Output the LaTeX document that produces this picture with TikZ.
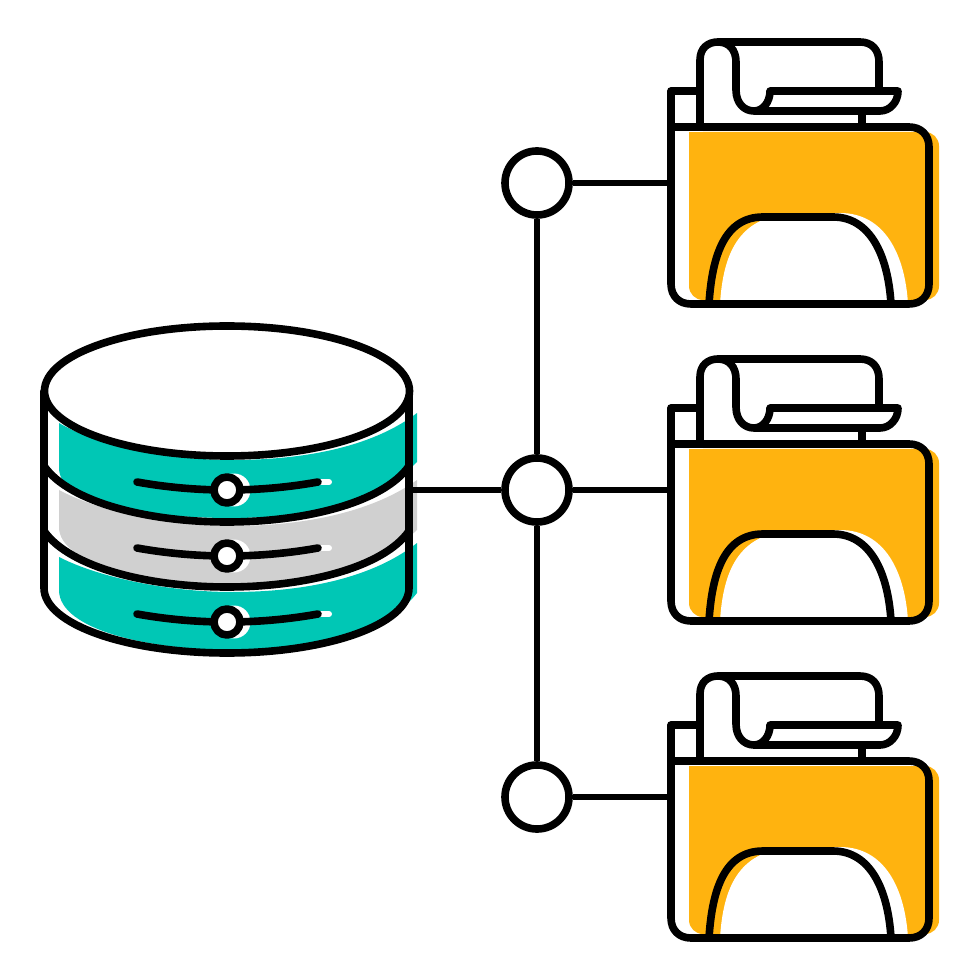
\documentclass[tikz,border=0pt]{standalone}
\definecolor{teal1}{HTML}{00C7B5}
\definecolor{gray1}{HTML}{D0D0D0}
\definecolor{amber}{HTML}{FFB30F}
\tikzset{
  ink/.style={draw=black,line width=0.076cm,line join=round,line cap=round},
  thinink/.style={draw=black,line width=0.066cm},
  hub/.style={circle,draw=black,fill=white,line width=0.076cm,minimum size=0.64cm,inner sep=0pt},
}
\begin{document}
\begin{tikzpicture}[x=0.01cm,y=-0.01cm]
\useasboundingbox (0,0) rectangle (980,980);
% database fills
\fill[teal1] (59,423) .. controls (100,447) and (170,460) .. (232,460) .. controls (310,460) and (375,445) .. (417,413) -- (417,462) .. controls (375,505) and (300,518) .. (232,518) .. controls (150,518) and (59,505) .. (59,468) -- cycle;
\fill[gray1] (59,490) .. controls (100,512) and (170,526) .. (232,526) .. controls (310,526) and (375,510) .. (417,480) -- (417,530) .. controls (375,570) and (300,584) .. (232,584) .. controls (150,584) and (59,565) .. (59,527) -- cycle;
\fill[teal1] (59,557) .. controls (100,578) and (170,592) .. (232,592) .. controls (310,592) and (375,576) .. (417,543) -- (417,593) .. controls (385,635) and (300,650) .. (232,650) .. controls (150,650) and (59,630) .. (59,590) -- cycle;
% connectors
\coordinate (folderA) at (671,183);
\coordinate (folderB) at (671,490);
\coordinate (folderC) at (671,797);
\coordinate (dbport) at (409,490);
\node[hub] (hubA) at (537,183) {};
\node[hub] (hubB) at (537,490) {};
\node[hub] (hubC) at (537,797) {};
\draw[thinink] (hubA) -- (folderA);
\draw[thinink] (hubB) -- (folderB);
\draw[thinink] (hubC) -- (folderC);
\draw[thinink] (hubA) -- (hubB);
\draw[thinink] (hubB) -- (hubC);
\draw[thinink] (dbport) -- (hubB);
% database outline
\draw[ink] (44,391) -- (44,588) .. controls (44,624) and (126,653) .. (227,653) .. controls (328,653) and (409,624) .. (409,588) -- (409,391);
\draw[ink] (44,466) .. controls (70,503) and (150,522) .. (227,522) .. controls (304,522) and (383,503) .. (409,466);
\draw[ink] (44,531) .. controls (70,568) and (150,587) .. (227,587) .. controls (304,587) and (383,568) .. (409,531);
\draw[ink,fill=white] (227,391) ellipse[x radius=182.5,y radius=65];
% slots
\foreach \sy in {490,556,622}{
  \begin{scope}[yshift=\sy*-0.01cm]
    \fill[white] (234,0) circle[radius=16.5];
    \draw[white,line width=0.06cm,line cap=round] (320,-8) -- (329,-8);
    \draw[ink] (137,-8) .. controls (165,-3) and (195,0) .. (227,0) .. controls (260,0) and (290,-3) .. (318,-8);
    \draw[ink,fill=white] (227,0) circle[radius=13];
  \end{scope}
}
% folders
\foreach \dy in {0,317,634}{
  \begin{scope}[yshift=\dy*-0.01cm]
    \fill[amber,rounded corners=0.14cm] (689,132) rectangle (939,300);
    \fill[amber] (689,132) rectangle (720,200);
    \fill[white] (720,304) .. controls (723,255) and (738,217) .. (790,214) -- (840,213) .. controls (885,213) and (905,255) .. (908,304) -- cycle;
    % back tab
    \draw[ink] (700,127) -- (700,91) -- (671,91) -- (671,127);
    % paper
    \draw[ink] (700,91) -- (700,60) .. controls (700,48) and (708,42) .. (718,42) -- (860,42) .. controls (872,42) and (879,50) .. (879,62) -- (879,91);
    \draw[ink] (718,42) .. controls (729,42) and (736,50) .. (736,62) -- (736,90) .. controls (736,103) and (744,111) .. (754,111) -- (880,111) .. controls (890,111) and (898,102) .. (898,91) -- (770,91) .. controls (770,102) and (763,111) .. (754,111);
    \draw[ink] (862,111) -- (862,127);
    % folder body: left top corner square, others rounded
    \draw[ink] (671,127) -- (909,127) .. controls (921,127) and (929,135) .. (929,147) -- (929,284) .. controls (929,296) and (921,304) .. (909,304) -- (691,304) .. controls (679,304) and (671,296) .. (671,284) -- cycle;
    % arch
    \draw[ink] (709,304) .. controls (712,255) and (725,217) .. (763,217) -- (833,217) .. controls (870,217) and (888,255) .. (891,304);
  \end{scope}
}
\end{tikzpicture}
\end{document}
